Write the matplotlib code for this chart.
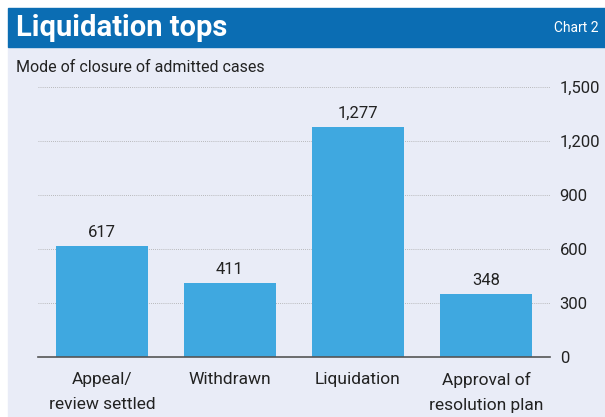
import matplotlib
matplotlib.use("Agg")
import matplotlib.pyplot as plt
from matplotlib.patches import Rectangle

# Data
categories = ["Appeal/\nreview settled", "Withdrawn", "Liquidation", "Approval of\nresolution plan"]
values = [617, 411, 1277, 348]
yticks = [0, 300, 600, 900, 1200, 1500]

title = "Liquidation tops"
chart_no = "Chart 2"
subtitle = "Mode of closure of admitted cases"

bar_color = "#3fa8e0"
panel_bg = "#e9ecf7"
header_blue = "#0b6db3"
text_dark = "#222222"

plt.rcParams['font.family'] = ['Roboto', 'DejaVu Sans']

W, H = 605, 417
fig = plt.figure(figsize=(W / 100, H / 100), dpi=100)
fig.patch.set_facecolor("white")

# background panel and header band
fig.patches.append(Rectangle((8 / W, 0), 1 - 8 / W, (H - 47) / H,
                             transform=fig.transFigure, color=panel_bg, zorder=0))
fig.patches.append(Rectangle((8 / W, (H - 47) / H), 1 - 8 / W, 39 / H,
                             transform=fig.transFigure, color=header_blue, zorder=0))

fig.text(16 / W, (H - 28) / H, title, color="white", fontsize=21, fontweight="bold",
         va="center", ha="left")
fig.text(598 / W, (H - 28) / H, chart_no, color="white", fontsize=10,
         va="center", ha="right")
fig.text(16 / W, (H - 67) / H, subtitle, color=text_dark, fontsize=11.5,
         va="center", ha="left")

ax = fig.add_axes([38 / W, 60 / H, 512 / W, 270 / H])
ax.set_zorder(2)
ax.set_facecolor("none")

x = range(len(categories))
ax.bar(x, values, width=0.72, color=bar_color, zorder=2)
for xi, v in zip(x, values):
    ax.text(xi, v + 35, f"{v:,}", ha="center", va="bottom", fontsize=12, color=text_dark)

ax.set_xlim(-0.5, 3.5)
ax.set_ylim(0, 1500)
ax.set_yticks(yticks)
ax.set_yticklabels([f"{t:,}" for t in yticks])
ax.yaxis.tick_right()
ax.tick_params(axis="y", length=0, pad=7, labelsize=12, labelcolor=text_dark)
ax.set_xticks(list(x))
ax.set_xticklabels(categories, fontsize=12.5, color=text_dark, linespacing=1.8)
ax.tick_params(axis="x", length=0, pad=11)

for t in yticks[1:]:
    ax.axhline(t, color="#a8a8a8", linestyle=(0, (1, 1.5)), linewidth=0.6, zorder=1)

for s in ["top", "left", "right"]:
    ax.spines[s].set_visible(False)
ax.spines["bottom"].set_color("#555555")
ax.spines["bottom"].set_linewidth(1.2)

fig.savefig("out.png", dpi=100, facecolor=fig.get_facecolor())
